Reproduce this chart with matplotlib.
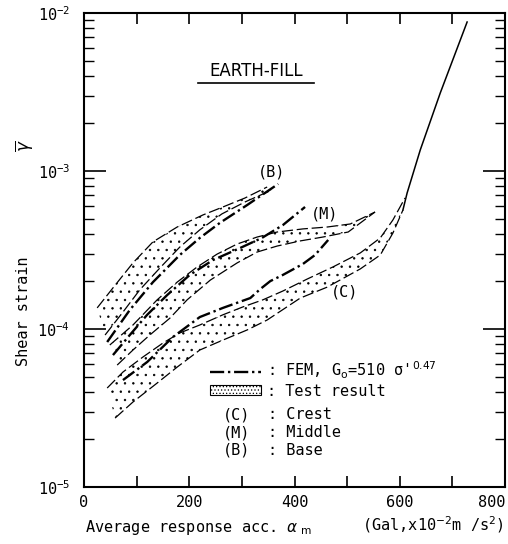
import numpy as np
import matplotlib
matplotlib.use("Agg")
import matplotlib.pyplot as plt
from matplotlib.lines import Line2D
from matplotlib.patches import Patch
from matplotlib.ticker import LogLocator, MultipleLocator, FuncFormatter, NullFormatter

plt.rcParams['font.family'] = ['DejaVu Sans Mono', 'DejaVu Sans']
plt.rcParams['hatch.linewidth'] = 0.5

# ---- data (acc. in Gal, strain) ----
# Base (B)
b_up_x = [25, 55, 93, 131, 177, 226, 264, 306, 348]
b_up_y = [1.36e-4, 1.82e-4, 2.62e-4, 3.56e-4, 4.42e-4, 5.27e-4, 5.92e-4, 6.75e-4, 7.92e-4]
b_lo_x = [40, 74, 106, 144, 182, 220, 262, 306, 357]
b_lo_y = [9.16e-5, 1.28e-4, 1.77e-4, 2.43e-4, 3.30e-4, 4.24e-4, 5.35e-4, 6.37e-4, 7.58e-4]
b_fem_x = [44, 87, 131, 182, 220, 258, 310, 369]
b_fem_y = [8.27e-5, 1.32e-4, 1.98e-4, 2.94e-4, 3.77e-4, 4.69e-4, 6.09e-4, 8.28e-4]

# Middle (M)
m_up_x = [49, 93, 139, 177, 215, 253, 291, 329, 367, 416, 462, 506, 553]
m_up_y = [7.92e-5, 1.06e-4, 1.53e-4, 1.98e-4, 2.47e-4, 2.98e-4, 3.45e-4, 3.82e-4,
          4.11e-4, 4.30e-4, 4.42e-4, 4.62e-4, 5.50e-4]
m_lo_x = [63, 93, 125, 163, 196, 240, 291, 329, 367, 411, 454, 502, 553]
m_lo_y = [5.91e-5, 7.36e-5, 9.16e-5, 1.17e-4, 1.53e-4, 2.04e-4, 2.62e-4, 3.07e-4,
          3.35e-4, 3.61e-4, 3.82e-4, 4.11e-4, 5.50e-4]
m_fem_x = [55, 87, 120, 158, 201, 245, 297, 338, 378, 420]
m_fem_y = [6.84e-5, 9.16e-5, 1.23e-4, 1.64e-4, 2.20e-4, 2.73e-4, 3.26e-4, 3.77e-4, 4.55e-4, 5.92e-4]

# Crest (C)
c_up_x = [44, 74, 112, 150, 182, 220, 264, 302, 340, 378, 424, 473, 525, 563, 587, 610]
c_up_y = [4.23e-5, 5.34e-5, 6.65e-5, 8.15e-5, 9.44e-5, 1.06e-4, 1.23e-4, 1.38e-4,
          1.53e-4, 1.74e-4, 2.07e-4, 2.47e-4, 3.03e-4, 3.77e-4, 4.90e-4, 6.75e-4]
c_lo_x = [59, 93, 139, 177, 220, 264, 310, 348, 411, 462, 525, 563, 587, 606]
c_lo_y = [2.73e-5, 3.45e-5, 4.55e-5, 5.74e-5, 7.36e-5, 8.51e-5, 9.86e-5, 1.14e-4,
          1.57e-4, 1.84e-4, 2.40e-4, 2.94e-4, 4.05e-4, 5.66e-4]
c_fem_x = [74, 120, 169, 220, 264, 316, 335, 354, 378, 416, 439, 464]
c_fem_y = [4.75e-5, 6.18e-5, 8.90e-5, 1.19e-4, 1.36e-4, 1.57e-4, 1.79e-4, 2.01e-4,
           2.20e-4, 2.58e-4, 2.94e-4, 3.66e-4]

# common solid branch at large acceleration
top_x = [606, 614, 639, 677, 728]
top_y = [5.66e-4, 7.26e-4, 1.36e-3, 3.12e-3, 8.77e-3]

x_ticks = [0, 200, 400, 600, 800]

DASH = (9, 3)
DASHDOT = (6, 1.6, 1, 1.6)

fig = plt.figure(figsize=(5.08, 5.44), dpi=100)
ax = fig.add_axes([0.1654, 0.1048, 0.8287, 0.8713])


def draw_band(ux, uy, lx, ly):
    # dotted area between the two test-result bounds
    ax.fill(list(ux) + list(lx)[::-1], list(uy) + list(ly)[::-1],
            facecolor='none', edgecolor='black', linewidth=0, hatch='..')
    ax.plot(ux, uy, color='black', lw=0.9, dashes=DASH)
    ax.plot(lx, ly, color='black', lw=0.9, dashes=DASH)


draw_band(b_up_x, b_up_y, b_lo_x, b_lo_y)
draw_band(m_up_x, m_up_y, m_lo_x, m_lo_y)
draw_band(c_up_x, c_up_y, c_lo_x, c_lo_y)

for fx, fy in [(b_fem_x, b_fem_y), (m_fem_x, m_fem_y), (c_fem_x, c_fem_y)]:
    ax.plot(fx, fy, color='black', lw=1.7, dashes=DASHDOT)

ax.plot(top_x, top_y, color='black', lw=1.1)

# curve labels
ax.text(357, 9.86e-4, '(B)', fontsize=11, ha='center', va='center')
ax.text(458, 5.35e-4, '(M)', fontsize=11, ha='center', va='center')
ax.text(496, 1.71e-4, '(C)', fontsize=11, ha='center', va='center')

# title inside frame
ax.text(0.409, 0.878, 'EARTH-FILL', transform=ax.transAxes, fontsize=12,
        family='DejaVu Sans', ha='center', va='center')
ax.plot([0.271, 0.546], [0.852, 0.852], transform=ax.transAxes, color='black', lw=1.2)

# legend
handles = [Line2D([], [], color='black', lw=1.7, dashes=DASHDOT),
           Patch(facecolor='none', edgecolor='black', hatch='.....', linewidth=0.8)]
labels = [r": FEM, G$_\mathrm{o}$=510 σ'$^{0.47}$", ': Test result']
ax.legend(handles, labels, loc='upper left', bbox_to_anchor=(0.30, 0.268),
          frameon=False, fontsize=11, handlelength=3.3, handleheight=0.6,
          handletextpad=0.4, labelspacing=0.15, borderpad=0, borderaxespad=0)
for yy, key, name in [(0.152, '(C)', 'Crest'), (0.114, '(M)', 'Middle'), (0.078, '(B)', 'Base')]:
    ax.text(0.330, yy, key, transform=ax.transAxes, fontsize=11, va='center')
    ax.text(0.437, yy, ': ' + name, transform=ax.transAxes, fontsize=11, va='center')

ax.set_yscale('log')
ax.set_xlim(0, 800)
ax.set_ylim(1e-5, 1e-2)

ax.xaxis.set_major_locator(MultipleLocator(100))
ax.xaxis.set_major_formatter(FuncFormatter(lambda v, p: '%d' % v if int(round(v)) in x_ticks else ''))
ax.yaxis.set_major_locator(LogLocator(base=10))
ax.yaxis.set_minor_locator(LogLocator(base=10, subs=np.arange(2, 10)))
ax.yaxis.set_minor_formatter(NullFormatter())

ax.tick_params(axis='x', which='both', direction='in', length=8, width=1.2,
               top=True, labelsize=11, pad=6)
ax.tick_params(axis='y', which='major', direction='in', length=16, width=1.2,
               right=True, labelsize=11, pad=10)
ax.tick_params(axis='y', which='minor', direction='in', length=7, width=1.0, right=True)
for s in ax.spines.values():
    s.set_linewidth(1.5)

fig.canvas.draw()
for lab in ax.get_xticklabels():
    if lab.get_text() == '800':
        lab.set_horizontalalignment('right')

fig.text(0.047, 0.428, 'Shear strain', rotation=90, fontsize=11, ha='center', va='center')
fig.text(0.047, 0.733, r'$\overline{\gamma}$', rotation=90, fontsize=12, ha='center', va='center')
fig.text(0.167, 0.030, r'Average response acc. $\alpha_{\ \mathrm{m}}$', fontsize=11,
         ha='left', va='center')
fig.text(0.992, 0.036, r'(Gal,x10$^{-2}$m /s$^{2}$)', fontsize=11, ha='right', va='center')

fig.savefig('out.png', dpi=100)
